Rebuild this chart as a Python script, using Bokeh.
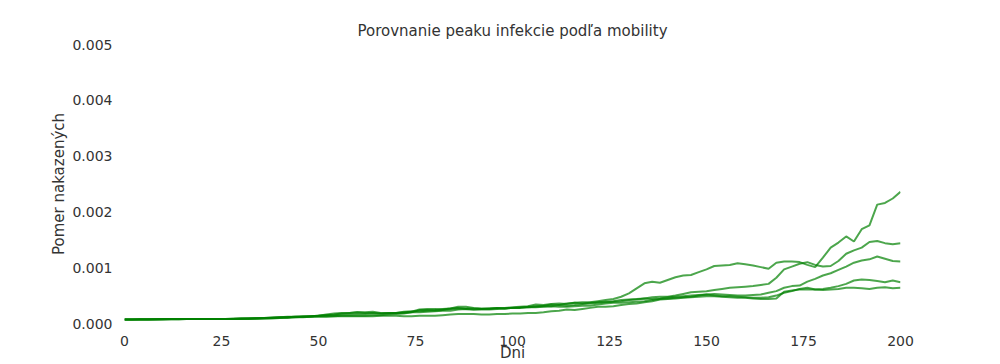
from bokeh.plotting import figure
from bokeh.models import NumeralTickFormatter, FixedTicker, Range1d
from bokeh.embed import file_html
from bokeh.resources import INLINE

# Days sampled every 2 days
days = list(range(0, 201, 2))

# Values in thousandths (x 0.001)
series_a = [0.07, 0.07, 0.07, 0.07, 0.07, 0.08, 0.08, 0.08, 0.08, 0.08,
            0.08, 0.08, 0.08, 0.08, 0.08, 0.09, 0.09, 0.09, 0.10, 0.10,
            0.11, 0.11, 0.12, 0.12, 0.13, 0.14, 0.15, 0.16, 0.18, 0.19,
            0.20, 0.19, 0.19, 0.18, 0.19, 0.19, 0.20, 0.21, 0.25, 0.26,
            0.26, 0.25, 0.27, 0.30, 0.30, 0.28, 0.27, 0.27, 0.28, 0.28,
            0.29, 0.30, 0.31, 0.34, 0.33, 0.35, 0.36, 0.35, 0.37, 0.38,
            0.38, 0.40, 0.42, 0.44, 0.48, 0.54, 0.63, 0.72, 0.75, 0.73,
            0.78, 0.83, 0.86, 0.87, 0.92, 0.97, 1.03, 1.04, 1.05, 1.08,
            1.06, 1.04, 1.01, 0.98, 1.09, 1.11, 1.11, 1.10, 1.05, 1.01,
            1.18, 1.36, 1.45, 1.56, 1.47, 1.69, 1.76, 2.13, 2.16, 2.24,
            2.36]

series_c = [0.07, 0.07, 0.08, 0.08, 0.08, 0.08, 0.08, 0.08, 0.08, 0.08,
            0.08, 0.08, 0.08, 0.08, 0.09, 0.09, 0.09, 0.10, 0.10, 0.11,
            0.11, 0.12, 0.12, 0.13, 0.13, 0.14, 0.15, 0.15, 0.16, 0.16,
            0.17, 0.17, 0.18, 0.18, 0.19, 0.19, 0.21, 0.22, 0.22, 0.23,
            0.24, 0.26, 0.27, 0.28, 0.27, 0.27, 0.26, 0.27, 0.28, 0.27,
            0.28, 0.29, 0.29, 0.30, 0.31, 0.31, 0.33, 0.32, 0.33, 0.35,
            0.36, 0.37, 0.38, 0.39, 0.40, 0.42, 0.43, 0.45, 0.47, 0.48,
            0.48, 0.50, 0.53, 0.56, 0.57, 0.58, 0.60, 0.62, 0.64, 0.65,
            0.66, 0.67, 0.69, 0.71, 0.82, 0.97, 1.02, 1.07, 1.10, 1.05,
            1.02, 1.03, 1.12, 1.25, 1.31, 1.36, 1.46, 1.48, 1.44, 1.42,
            1.44]

series_d = [0.07, 0.07, 0.07, 0.07, 0.08, 0.08, 0.08, 0.08, 0.08, 0.08,
            0.08, 0.08, 0.08, 0.08, 0.08, 0.09, 0.09, 0.09, 0.10, 0.10,
            0.11, 0.11, 0.12, 0.12, 0.13, 0.14, 0.16, 0.18, 0.19, 0.19,
            0.20, 0.20, 0.21, 0.19, 0.18, 0.19, 0.19, 0.20, 0.20, 0.21,
            0.22, 0.23, 0.23, 0.25, 0.26, 0.25, 0.26, 0.26, 0.27, 0.27,
            0.28, 0.28, 0.29, 0.29, 0.30, 0.31, 0.30, 0.30, 0.31, 0.32,
            0.32, 0.34, 0.36, 0.37, 0.37, 0.38, 0.39, 0.40, 0.42, 0.44,
            0.45, 0.46, 0.47, 0.48, 0.50, 0.52, 0.53, 0.52, 0.51, 0.50,
            0.50, 0.51, 0.52, 0.55, 0.58, 0.64, 0.67, 0.68, 0.75, 0.80,
            0.86, 0.90, 0.96, 1.02, 1.09, 1.13, 1.15, 1.20, 1.16, 1.12,
            1.11]

series_e = [0.07, 0.07, 0.07, 0.07, 0.07, 0.07, 0.08, 0.08, 0.08, 0.08,
            0.08, 0.08, 0.08, 0.08, 0.08, 0.08, 0.09, 0.09, 0.09, 0.10,
            0.10, 0.11, 0.11, 0.12, 0.12, 0.13, 0.13, 0.13, 0.14, 0.14,
            0.14, 0.14, 0.15, 0.15, 0.16, 0.17, 0.18, 0.20, 0.24, 0.24,
            0.23, 0.24, 0.26, 0.27, 0.26, 0.25, 0.25, 0.25, 0.26, 0.27,
            0.28, 0.28, 0.30, 0.31, 0.32, 0.34, 0.33, 0.36, 0.37, 0.36,
            0.37, 0.38, 0.39, 0.40, 0.42, 0.43, 0.44, 0.45, 0.44, 0.45,
            0.47, 0.48, 0.49, 0.50, 0.51, 0.52, 0.50, 0.49, 0.49, 0.48,
            0.47, 0.46, 0.46, 0.47, 0.50, 0.55, 0.58, 0.62, 0.64, 0.61,
            0.62, 0.64, 0.67, 0.71, 0.77, 0.79, 0.78, 0.76, 0.74, 0.77,
            0.74]

series_f = [0.07, 0.07, 0.07, 0.07, 0.07, 0.07, 0.07, 0.07, 0.08, 0.08,
            0.08, 0.08, 0.08, 0.08, 0.08, 0.08, 0.08, 0.09, 0.09, 0.09,
            0.10, 0.10, 0.11, 0.11, 0.12, 0.12, 0.12, 0.13, 0.13, 0.13,
            0.13, 0.13, 0.13, 0.14, 0.14, 0.14, 0.13, 0.13, 0.14, 0.14,
            0.14, 0.15, 0.16, 0.17, 0.17, 0.17, 0.16, 0.16, 0.17, 0.17,
            0.18, 0.18, 0.19, 0.19, 0.20, 0.22, 0.23, 0.25, 0.24, 0.26,
            0.28, 0.30, 0.30, 0.31, 0.33, 0.35, 0.36, 0.38, 0.40, 0.43,
            0.44, 0.45, 0.46, 0.47, 0.48, 0.49, 0.49, 0.48, 0.47, 0.46,
            0.46, 0.45, 0.44, 0.44, 0.45, 0.57, 0.59, 0.61, 0.61, 0.61,
            0.60, 0.61, 0.62, 0.64, 0.64, 0.63, 0.62, 0.64, 0.65, 0.63,
            0.64]

all_series = [series_a, series_c, series_d, series_e, series_f]

x_ticks = [0, 25, 50, 75, 100, 125, 150, 175, 200]
y_ticks = [0.0, 0.001, 0.002, 0.003, 0.004, 0.005]

FONT = "DejaVu Sans"
TXT = "#333333"

p = figure(width=1000, height=364, output_backend="svg", toolbar_location=None,
           title="Porovnanie peaku infekcie podľa mobility",
           x_range=Range1d(0, 200), y_range=Range1d(0, 0.005),
           min_border_left=124, min_border_right=100, min_border_top=44,
           min_border_bottom=40)

for s in all_series:
    p.line(days, [v * 0.001 for v in s], line_color="#008000", line_alpha=0.7,
           line_width=2)

p.title.align = "center"
p.title.text_font = FONT
p.title.text_font_size = "15px"
p.title.text_font_style = "normal"
p.title.text_color = TXT
p.title.offset = 0

p.xgrid.visible = False
p.ygrid.visible = False
p.outline_line_color = None

p.xaxis.axis_label = "Dni"
p.yaxis.axis_label = "Pomer nakazených"
p.xaxis.ticker = FixedTicker(ticks=x_ticks)
p.yaxis.ticker = FixedTicker(ticks=y_ticks)
p.yaxis.formatter = NumeralTickFormatter(format="0.000")

for ax in (p.xaxis, p.yaxis):
    ax.axis_line_color = None
    ax.major_tick_line_color = None
    ax.minor_tick_line_color = None
    ax.major_tick_out = 0
    ax.major_tick_in = 0
    ax.minor_tick_out = 0
    ax.minor_tick_in = 0
    ax.major_label_text_font = FONT
    ax.major_label_text_font_size = "14px"
    ax.major_label_text_color = TXT
    ax.axis_label_text_font = FONT
    ax.axis_label_text_font_size = "15px"
    ax.axis_label_text_font_style = "normal"
    ax.axis_label_text_color = TXT

p.xaxis.major_label_standoff = 12
p.xaxis.axis_label_standoff = -5
p.yaxis.major_label_standoff = 12
p.yaxis.axis_label_standoff = 1

open("out.html", "w").write(file_html(p, INLINE))
